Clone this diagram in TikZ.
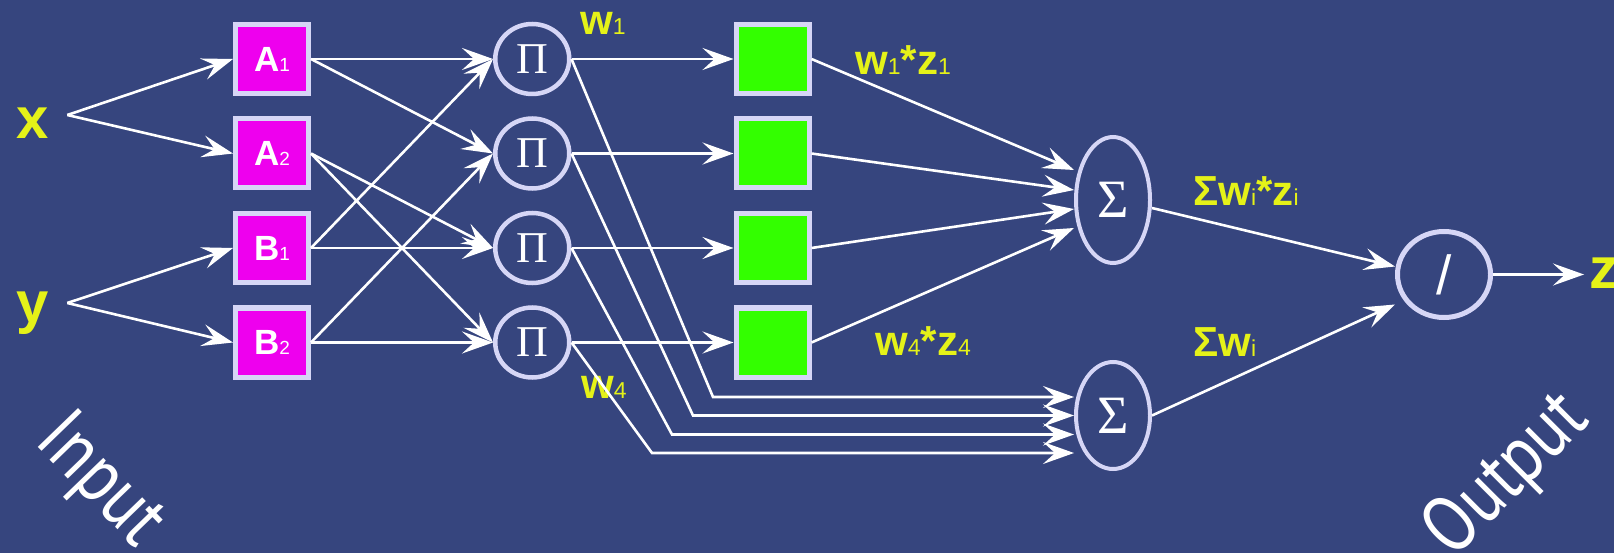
\documentclass[tikz,border=0pt]{standalone}
\usepackage{fontspec}
\setmainfont{Liberation Sans}
\newfontfamily\grkserif{Liberation Serif}
\newfontfamily\slimsans{PT Sans}
\usetikzlibrary{arrows.meta, positioning, shapes.geometric}
\definecolor{anfisnavy}{HTML}{36457E}
\definecolor{anfismag}{HTML}{EE00EE}
\definecolor{anfisgreen}{HTML}{33FF00}
\definecolor{anfisring}{HTML}{D6D6F6}
\definecolor{anfisyellow}{HTML}{E5F218}
\tikzset{
  >={Stealth[length=31pt, width=22pt, inset=12pt]},
  wire/.style={->, line width=2.6pt, draw=white},
  mfbox/.style={rectangle, draw=anfisring, line width=5pt, fill=anfismag,
                minimum width=73pt, minimum height=69pt, inner sep=0pt,
                text=white, font=\bfseries\fontsize{35}{35}\selectfont},
  conbox/.style={mfbox, fill=anfisgreen},
  prodnode/.style={ellipse, draw=anfisring, line width=4.5pt, minimum width=74pt,
                   minimum height=70pt, inner sep=0pt, text=white,
                   font=\grkserif\fontsize{44}{44}\selectfont},
  sumnode/.style={prodnode, line width=4pt, font=\grkserif\fontsize{54}{54}\selectfont},
  divnode/.style={prodnode, line width=5pt, minimum width=93pt, minimum height=86pt,
                  font=\fontsize{55}{55}\selectfont},
  varlbl/.style={text=anfisyellow, font=\bfseries\fontsize{58}{58}\selectfont,
                 inner ysep=0pt, inner xsep=18pt, text depth=0pt},
  wlbl/.style={text=anfisyellow, font=\bfseries\fontsize{42}{42}\selectfont,
               inner sep=0pt, anchor=base west},
  sidelbl/.style={text=white, font=\slimsans\fontsize{80}{80}\selectfont, inner sep=0pt},
}
\newcommand{\sbs}[1]{{\mdseries\fontsize{23}{23}\selectfont #1}}
\newcommand{\boxsub}[1]{{\mdseries\fontsize{19}{19}\selectfont #1}}

\begin{document}
\begin{tikzpicture}[x=1pt, y=-1pt]
  \fill[anfisnavy] (0,0) rectangle (1614,553);
  \useasboundingbox (0,0) rectangle (1614,553);
  % inputs and membership boxes
  \node[varlbl] (xin) at (33,123) {x};
  \node[varlbl] (yin) at (33,307) {y};
  \node[mfbox] (a1) at (272,59) {A\boxsub{1}};
  \node[mfbox, below=20.5pt of a1] (a2) {A\boxsub{2}};
  \node[mfbox, below=20.5pt of a2] (b1) {B\boxsub{1}};
  \node[mfbox, below=20.5pt of b1] (b2) {B\boxsub{2}};
  % rule firing strengths
  \node[prodnode, right=182pt of a1] (p1) {Π};
  \node[prodnode, right=182pt of a2] (p2) {Π};
  \node[prodnode, right=182pt of b1] (p3) {Π};
  \node[prodnode, right=182pt of b2] (p4) {Π};
  \node[conbox, right=162pt of p1] (g1) {};
  \node[conbox, right=162pt of p2] (g2) {};
  \node[conbox, right=162pt of p3] (g3) {};
  \node[conbox, right=162pt of p4] (g4) {};
  % sums and division
  \node[sumnode, minimum height=126pt] (sA) at (1113,200) {Σ};
  \node[sumnode, minimum height=107pt] (sB) at (1113,415.5) {Σ};
  \node[divnode] (dv) at (1444,274.5) {/};
  \node[varlbl, anchor=west, inner xsep=5pt] (zout) at (1584,273) {z};
  % labels
  \node[wlbl] (w1) at (580,35) {w\sbs{1}};
  \node[wlbl] (w4) at (581,398) {w\sbs{4}};
  \node[wlbl] (wz1) at (855,75) {w\sbs{1}*z\sbs{1}};
  \node[wlbl] (wz4) at (875,355) {w\sbs{4}*z\sbs{4}};
  \node[wlbl] (swz) at (1193,206) {Σw\sbs{i}*z\sbs{i}};
  \node[wlbl] (sw) at (1193,356) {Σw\sbs{i}};
  \node[sidelbl, rotate=-46] (inlbl) at (99,482) {\scalebox{0.82}[1]{Input}};
  \node[sidelbl, rotate=45] (outlbl) at (1508,476) {\scalebox{0.82}[1]{Output}};
  % bends of the lower sum
  \coordinate (k1) at (713,397);
  \coordinate (k2) at (693,415.5);
  \coordinate (k3) at (672,434.5);
  \coordinate (k4) at (652,453);
  % connectors
  \draw[wire] ([yshift=8pt]xin.east) -- (a1.west);
  \draw[wire] ([yshift=8pt]xin.east) -- (a2.west);
  \draw[wire] ([yshift=4pt]yin.east) -- (b1.west);
  \draw[wire] ([yshift=4pt]yin.east) -- (b2.west);
  \draw[wire] (a1.east) -- (p1.west);
  \draw[wire] (a1.east) -- (p2.west);
  \draw[wire] (a2.east) -- (p3.west);
  \draw[wire] (a2.east) -- (p4.west);
  \draw[wire] (b1.east) -- (p1.west);
  \draw[wire] (b1.east) -- (p3.west);
  \draw[wire] (b2.east) -- (p2.west);
  \draw[wire] (b2.east) -- (p4.west);
  \draw[wire] (p1.east) -- (g1.west);
  \draw[wire] (p2.east) -- (g2.west);
  \draw[wire] (p3.east) -- (g3.west);
  \draw[wire] (p4.east) -- (g4.west);
  \draw[wire] (p1.east) -- (k1) -- (k1 -| sB.west);
  \draw[wire] (p2.east) -- (k2) -- (k2 -| sB.west);
  \draw[wire] (p3.east) -- (k3) -- (k3 -| sB.west);
  \draw[wire] (p4.east) -- (k4) -- (k4 -| sB.west);
  \draw[wire] (g1.east) -- ([yshift=30pt]sA.west);
  \draw[wire] (g2.east) -- ([yshift=10pt]sA.west);
  \draw[wire] (g3.east) -- ([yshift=-9pt]sA.west);
  \draw[wire] (g4.east) -- ([yshift=-28pt]sA.west);
  \draw[wire] ([yshift=-8pt]sA.east) -- ([yshift=8pt]dv.west);
  \draw[wire] (sB.east) -- ([yshift=-30pt]dv.west);
  \draw[wire] (dv.east) -- (dv.east -| zout.west);
\end{tikzpicture}
\end{document}
